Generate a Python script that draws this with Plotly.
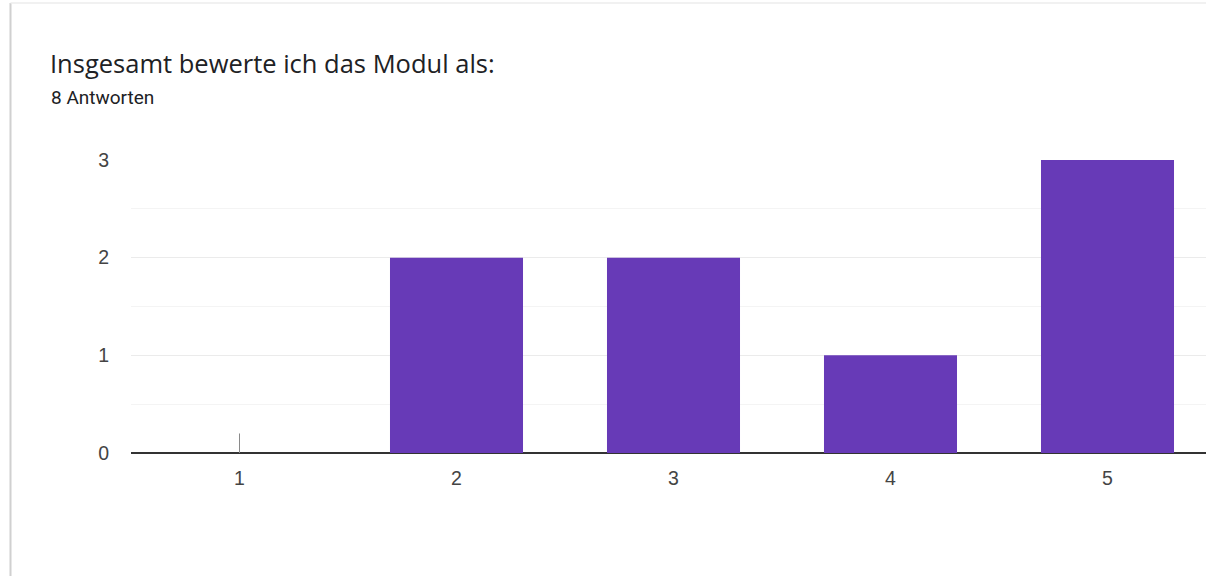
import plotly.graph_objects as go

categories = [1, 2, 3, 4, 5]
counts = [0, 2, 2, 1, 3]
title_text = "Insgesamt bewerte ich das Modul als:"
subtitle_text = "8 Antworten"
y_ticks = [0, 1, 2, 3]

W, H = 1206, 576
L, R, T, B = 131, 0, 160, 123  # margins
pw = W - L - R
ph = H - T - B

def px_x(px):
    return (px - L) / pw

def px_y(py):
    return (H - B - py) / ph

fig = go.Figure()
fig.add_trace(go.Bar(
    x=categories, y=counts,
    marker=dict(color="#673AB7", line=dict(width=0)),
    width=0.613, hoverinfo="x+y",
))
# zero-value markers
for c, v in zip(categories, counts):
    if v == 0:
        fig.add_trace(go.Scatter(x=[c, c], y=[v, 0.2], mode="lines",
                                 line=dict(color="#8a8a8a", width=1),
                                 hoverinfo="skip"))

fig.update_layout(
    width=W, height=H,
    margin=dict(l=L, r=R, t=T, b=B),
    paper_bgcolor="white", plot_bgcolor="white",
    showlegend=False,
    font=dict(family="Liberation Sans, Arial", color="#444"),
    xaxis=dict(
        range=[0.5, 0.5 + (W - L) / 217.0],
        tickvals=categories, ticktext=[str(c) for c in categories],
        showgrid=False, zeroline=False, showline=False,
        ticks="outside", ticklen=8, tickcolor="rgba(0,0,0,0)",
        tickfont=dict(size=19.5, color="#444"),
        fixedrange=True,
    ),
    yaxis=dict(
        range=[0, 3],
        tickvals=y_ticks,
        showgrid=True, gridcolor="#ebebeb", gridwidth=1,
        minor=dict(dtick=0.5, tick0=0, showgrid=True, gridcolor="#f4f4f4", gridwidth=1),
        zeroline=True, zerolinecolor="#333333", zerolinewidth=2,
        showline=False,
        ticks="outside", ticklen=17, tickcolor="rgba(0,0,0,0)",
        tickfont=dict(size=19.5, color="#444"),
        fixedrange=True,
    ),
    annotations=[
        dict(text=title_text, x=px_x(48), y=px_y(63), xref="paper", yref="paper",
             xanchor="left", yanchor="middle", showarrow=False,
             font=dict(family="Open Sans", size=25.5, color="#202124")),
        dict(text=subtitle_text, x=px_x(49), y=px_y(98), xref="paper", yref="paper",
             xanchor="left", yanchor="middle", showarrow=False,
             font=dict(family="Roboto", size=19, color="#202124")),
    ],
    shapes=[
        dict(type="line", xref="paper", yref="paper",
             x0=px_x(10.5), x1=px_x(10.5), y0=px_y(H), y1=px_y(3),
             line=dict(color="#d0d0d0", width=2), layer="below"),
        dict(type="line", xref="paper", yref="paper",
             x0=px_x(10.5), x1=px_x(W), y0=px_y(3), y1=px_y(3),
             line=dict(color="#ececec", width=1.5), layer="below"),
    ],
)

fig.write_html(
    "out.html",
    config={"displayModeBar": False},
    post_script="document.body.style.margin='0';document.body.style.overflow='hidden';",
)
